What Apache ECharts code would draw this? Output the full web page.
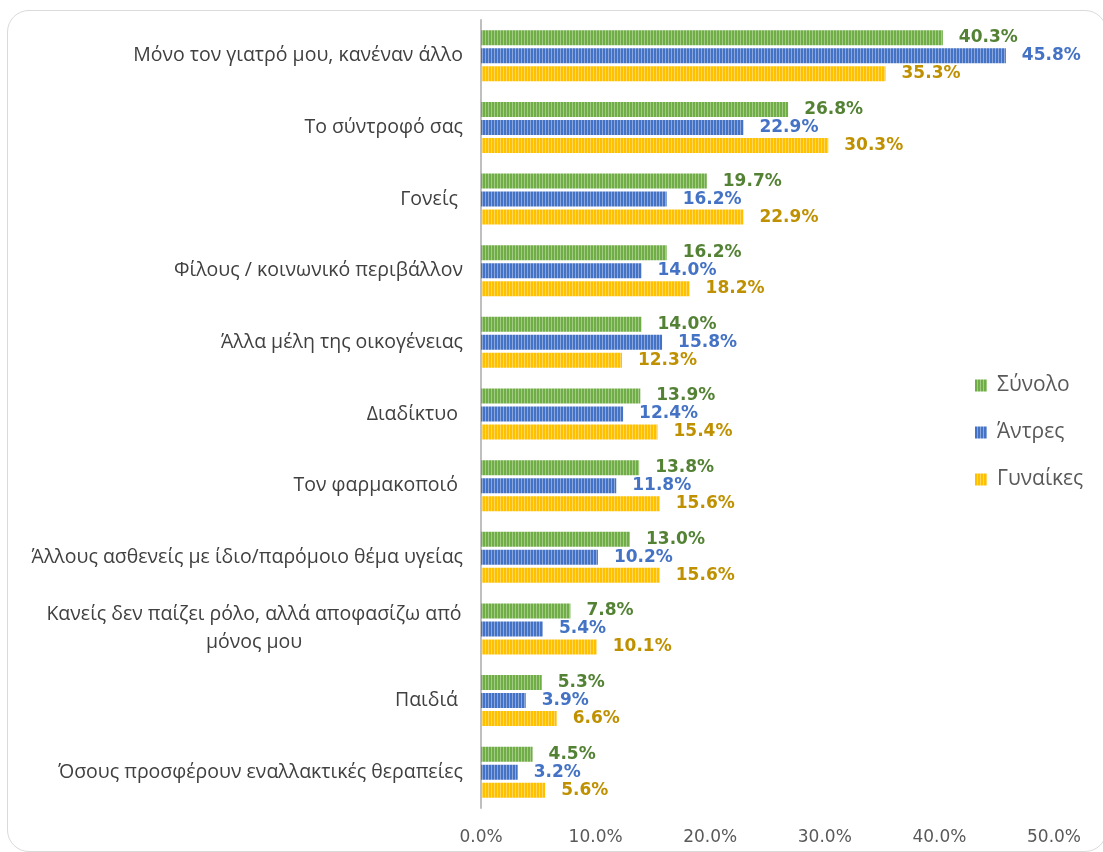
<!DOCTYPE html>
<html>
<head>
<meta charset="utf-8">
<script src="https://cdn.jsdelivr.net/npm/echarts@6/dist/echarts.min.js"></script>
<style>
  html, body { margin: 0; padding: 0; background: #fff; overflow: hidden; }
  .card {
    position: absolute; left: 7px; top: 10px; width: 1100px; height: 842px;
    border: 1px solid #dadada; border-radius: 22px; box-sizing: border-box;
  }
  #chart { position: absolute; left: 0; top: 0; width: 1103px; height: 852px; }
</style>
</head>
<body>
<div class="card"></div>
<div id="chart"></div>
<script>
const categories = [
  'Μόνο τον γιατρό μου, κανέναν άλλο',
  'Το σύντροφό σας',
  'Γονείς ',
  'Φίλους / κοινωνικό περιβάλλον',
  'Άλλα μέλη της οικογένειας',
  'Διαδίκτυο ',
  'Τον φαρμακοποιό ',
  'Άλλους ασθενείς με ίδιο/παρόμοιο θέμα υγείας',
  'Κανείς δεν παίζει ρόλο, αλλά αποφασίζω από\nμόνος μου',
  'Παιδιά ',
  'Όσους προσφέρουν εναλλακτικές θεραπείες'
]
const seriesNames = ['Σύνολο', 'Άντρες', 'Γυναίκες']
const totalValues = [40.3, 26.8, 19.7, 16.2, 14.0, 13.9, 13.8, 13.0, 7.8, 5.3, 4.5]
const menValues = [45.8, 22.9, 16.2, 14.0, 15.8, 12.4, 11.8, 10.2, 5.4, 3.9, 3.2]
const womenValues = [35.3, 30.3, 22.9, 18.2, 12.3, 15.4, 15.6, 15.6, 10.1, 6.6, 5.6]
const xTicks = [0, 10, 20, 30, 40, 50]

const barColors = ['#70AD47', '#4472C4', '#FFC000']
const stripeColors = ['#A2CB86', '#8AA6DB', '#FFD75C']
const labelColors = ['#548235', '#4472C4', '#BF9000']
const allValues = [totalValues, menValues, womenValues]

// vertical stripe fill like the excel pattern
const stripes = (base, light) => {
  const c = document.createElement('canvas')
  c.width = 3
  c.height = 4
  const ctx = c.getContext('2d')
  ctx.fillStyle = base
  ctx.fillRect(0, 0, 3, 4)
  ctx.fillStyle = light
  ctx.fillRect(2, 0, 1, 4)
  return { image: c, repeat: 'repeat' }
}

const chart = echarts.init(document.getElementById('chart'))

const makeSeries = (i) => ({
  name: seriesNames[i],
  type: 'bar',
  data: allValues[i],
  barWidth: 15,
  barGap: '20%',
  itemStyle: {
    color: stripes(barColors[i], stripeColors[i])
  },
  label: {
    show: true,
    position: 'right',
    distance: 16,
    color: labelColors[i],
    fontFamily: 'DejaVu Sans',
    fontWeight: 'bold',
    fontSize: 17,
    formatter: (p) => p.value.toFixed(1) + '%'
  },
  animation: false
})

const option = {
  grid: { left: 481, right: 49, top: 20, bottom: 44 },
  legend: {
    orient: 'vertical',
    left: 975,
    top: 375,
    padding: 0,
    itemWidth: 12,
    itemHeight: 12,
    itemGap: 26,
    icon: 'rect',
    textStyle: { color: '#595959', fontSize: 21, fontFamily: 'Open Sans', padding: [0, 0, 0, 5] },
    data: seriesNames
  },
  xAxis: {
    type: 'value',
    min: 0,
    max: 50,
    interval: 10,
    axisLine: { show: false },
    axisTick: { show: false },
    splitLine: { show: false },
    axisLabel: {
      color: '#595959',
      fontSize: 17,
      fontFamily: 'DejaVu Sans',
      margin: 21,
      formatter: (v) => xTicks.includes(v) ? v.toFixed(1) + '%' : ''
    }
  },
  yAxis: {
    type: 'category',
    inverse: true,
    data: categories,
    axisLine: { show: true, lineStyle: { color: '#bfbfbf', width: 2 } },
    axisTick: { show: false },
    axisLabel: {
      color: '#404040',
      fontSize: 19.5,
      fontFamily: 'Open Sans',
      margin: 18,
      lineHeight: 28,
      formatter: (v) => {
        if (v.indexOf('\n') >= 0) {
          return v.split('\n').map((s) => '{c|' + s + '}').join('\n')
        }
        return v
      },
      rich: {
        c: { width: 418, align: 'center', fontSize: 19.5, color: '#404040', fontFamily: 'Open Sans', lineHeight: 28 }
      }
    }
  },
  series: [0, 1, 2].map(makeSeries)
}

chart.setOption(option)
</script>
</body>
</html>
